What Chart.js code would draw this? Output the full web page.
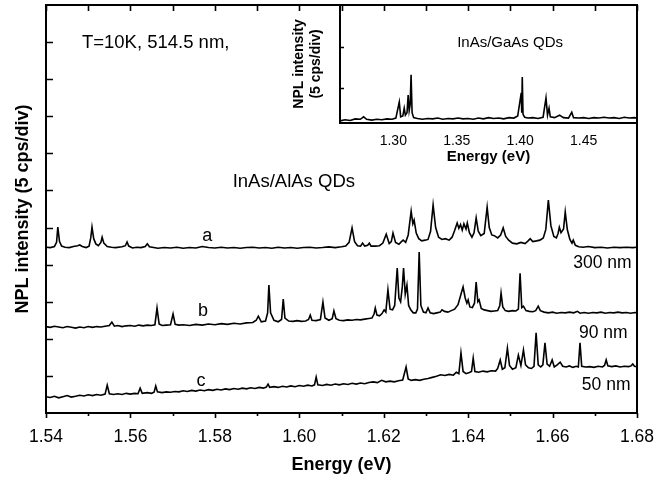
<!DOCTYPE html>
<html lang="en">
<head>
<meta charset="UTF-8">
<title>NPL spectra of InAs/AlAs QDs</title>
<script src="https://cdn.jsdelivr.net/npm/chart.js"></script>
<style>
  body { margin: 0; background: #fff; }
  #wrap { position: relative; width: 670px; height: 480px; }
  #main { position: absolute; left: 0; top: 0; }
  #inset { position: absolute; left: 280px; top: 0; }
</style>
</head>
<body>
<div id="wrap">
  <canvas id="main" width="670" height="480"></canvas>
  <canvas id="inset" width="380" height="175"></canvas>
</div>
<script>
// ---- main panel: InAs/AlAs QDs, offset spectra (units = divisions of 5 cps)
const xTickValues = [1.54, 1.56, 1.58, 1.60, 1.62, 1.64, 1.66, 1.68];
const xMinorValues = [1.55, 1.57, 1.59, 1.61, 1.63, 1.65, 1.67];
const yTickValues = [1, 2, 3, 4, 5, 6, 7, 8, 9, 10];

// trace a (300 nm mesa)
const energyA = [
  1.5400,1.5410,1.5420,1.5425,1.5428,1.5432,1.5437,1.5445,1.5455,1.5465,
  1.5475,1.5480,1.5486,1.5495,1.5502,1.5506,1.5509,1.5513,1.5518,1.5524,
  1.5530,1.5533,1.5537,1.5545,1.5555,1.5565,1.5580,1.5588,1.5592,1.5596,
  1.5605,1.5615,1.5625,1.5635,1.5640,1.5645,1.5655,1.5665,1.5680,1.5695,
  1.5710,1.5725,1.5740,1.5755,1.5770,1.5785,1.5800,1.5815,1.5830,1.5845,
  1.5860,1.5875,1.5890,1.5905,1.5920,1.5935,1.5950,1.5965,1.5980,1.5995,
  1.6010,1.6025,1.6040,1.6055,1.6070,1.6085,1.6100,1.6110,1.6118,1.6125,
  1.6131,1.6138,1.6145,1.6150,1.6155,1.6162,1.6166,1.6170,1.6180,1.6190,
  1.6198,1.6206,1.6213,1.6218,1.6222,1.6228,1.6236,1.6242,1.6246,1.6252,
  1.6258,1.6265,1.6269,1.6272,1.6277,1.6283,1.6290,1.6298,1.6305,1.6311,
  1.6317,1.6323,1.6330,1.6338,1.6346,1.6355,1.6362,1.6368,1.6374,1.6378,
  1.6382,1.6386,1.6390,1.6395,1.6398,1.6403,1.6409,1.6414,1.6419,1.6424,
  1.6430,1.6438,1.6445,1.6450,1.6456,1.6462,1.6470,1.6477,1.6483,1.6489,
  1.6496,1.6505,1.6515,1.6525,1.6535,1.6542,1.6547,1.6553,1.6562,1.6570,
  1.6578,1.6584,1.6590,1.6596,1.6603,1.6609,1.6613,1.6616,1.6620,1.6626,
  1.6630,1.6635,1.6641,1.6646,1.6649,1.6654,1.6662,1.6672,1.6685,1.6700,
  1.6715,1.6730,1.6745,1.6760,1.6775,1.6790,1.6800
];
const intensityA = [
  4.47,4.46,4.49,4.60,5.01,4.62,4.50,4.47,4.46,4.49,
  4.51,4.53,4.49,4.46,4.50,4.72,5.01,4.70,4.56,4.51,
  4.60,4.74,4.58,4.49,4.47,4.46,4.48,4.51,4.61,4.50,
  4.45,4.47,4.46,4.49,4.56,4.48,4.46,4.44,4.46,4.45,
  4.47,4.44,4.46,4.45,4.49,4.46,4.45,4.47,4.45,4.46,
  4.44,4.46,4.47,4.45,4.46,4.44,4.47,4.45,4.46,4.44,
  4.46,4.47,4.45,4.46,4.48,4.46,4.48,4.50,4.60,4.99,
  4.62,4.51,4.50,4.58,4.50,4.52,4.58,4.50,4.50,4.51,
  4.58,4.82,4.57,4.62,4.85,4.60,4.55,4.62,4.66,4.60,
  4.80,5.44,5.10,5.20,4.85,4.70,4.64,4.66,4.68,4.90,
  5.61,5.00,4.74,4.68,4.70,4.66,4.74,4.92,5.12,4.98,
  5.08,4.93,5.10,4.96,5.12,4.86,4.74,4.86,5.26,4.90,
  4.78,4.84,5.55,5.00,4.80,4.78,4.72,4.80,4.99,4.76,
  4.66,4.58,4.56,4.60,4.57,4.64,4.70,4.62,4.64,4.66,
  4.72,4.95,5.74,5.05,4.76,4.72,4.84,5.01,4.86,4.96,
  5.42,4.94,4.68,4.58,4.66,4.52,4.48,4.47,4.49,4.46,
  4.47,4.45,4.47,4.46,4.47,4.46,4.47
];

// trace b (90 nm mesa)
const energyB = [
  1.5400,1.5410,1.5420,1.5430,1.5440,1.5450,1.5460,1.5470,1.5480,1.5490,
  1.5500,1.5510,1.5520,1.5530,1.5540,1.5550,1.5556,1.5562,1.5570,1.5580,
  1.5590,1.5600,1.5610,1.5620,1.5630,1.5640,1.5650,1.5658,1.5663,1.5668,
  1.5675,1.5685,1.5695,1.5701,1.5706,1.5715,1.5725,1.5740,1.5755,1.5770,
  1.5785,1.5800,1.5815,1.5830,1.5845,1.5860,1.5875,1.5890,1.5898,1.5903,
  1.5910,1.5920,1.5925,1.5928,1.5932,1.5940,1.5950,1.5958,1.5962,1.5966,
  1.5975,1.5985,1.5995,1.6005,1.6015,1.6022,1.6026,1.6030,1.6040,1.6050,
  1.6056,1.6061,1.6070,1.6078,1.6082,1.6087,1.6095,1.6105,1.6115,1.6125,
  1.6135,1.6145,1.6155,1.6165,1.6172,1.6177,1.6180,1.6184,1.6190,1.6196,
  1.6201,1.6205,1.6210,1.6215,1.6221,1.6226,1.6232,1.6236,1.6240,1.6244,
  1.6247,1.6251,1.6255,1.6259,1.6264,1.6270,1.6276,1.6280,1.6284,1.6288,
  1.6294,1.6300,1.6305,1.6310,1.6318,1.6326,1.6334,1.6338,1.6344,1.6352,
  1.6360,1.6368,1.6376,1.6383,1.6388,1.6393,1.6397,1.6400,1.6404,1.6410,
  1.6415,1.6419,1.6423,1.6426,1.6431,1.6438,1.6446,1.6454,1.6462,1.6470,
  1.6475,1.6478,1.6482,1.6488,1.6496,1.6505,1.6513,1.6519,1.6523,1.6527,
  1.6531,1.6537,1.6545,1.6553,1.6560,1.6566,1.6571,1.6580,1.6590,1.6600,
  1.6610,1.6620,1.6630,1.6640,1.6650,1.6659,1.6665,1.6675,1.6685,1.6695,
  1.6705,1.6715,1.6725,1.6735,1.6745,1.6755,1.6765,1.6775,1.6785,1.6795,
  1.6800
];
const intensityB = [
  2.33,2.31,2.34,2.32,2.30,2.33,2.31,2.29,2.32,2.30,
  2.33,2.31,2.33,2.32,2.34,2.36,2.45,2.34,2.36,2.33,
  2.35,2.36,2.34,2.37,2.35,2.37,2.36,2.38,2.83,2.40,
  2.36,2.37,2.38,2.67,2.39,2.37,2.38,2.36,2.39,2.37,
  2.40,2.38,2.41,2.39,2.42,2.40,2.43,2.44,2.50,2.61,
  2.46,2.48,2.70,3.45,2.70,2.50,2.46,2.52,3.07,2.56,
  2.48,2.47,2.49,2.47,2.48,2.52,2.64,2.50,2.49,2.52,
  2.99,2.56,2.50,2.54,2.75,2.54,2.50,2.49,2.51,2.50,
  2.52,2.51,2.53,2.55,2.56,2.66,2.83,2.64,2.62,2.68,
  2.78,2.72,3.32,2.80,2.78,2.90,3.91,3.10,3.00,3.40,
  3.91,3.20,3.45,2.90,2.78,2.70,2.70,2.80,4.34,2.90,
  2.72,2.70,2.83,2.70,2.68,2.70,2.72,2.78,2.74,2.72,
  2.76,2.80,2.92,3.20,3.40,3.10,2.96,3.05,2.86,2.84,
  2.96,3.53,3.00,3.05,2.82,2.78,2.76,2.74,2.75,2.76,
  2.90,3.23,2.86,2.76,2.74,2.76,2.75,2.80,3.77,2.84,
  2.88,2.76,2.74,2.73,2.76,2.88,2.76,2.72,2.70,2.72,
  2.69,2.71,2.70,2.72,2.70,2.74,2.69,2.71,2.69,2.71,
  2.70,2.72,2.69,2.71,2.70,2.72,2.70,2.71,2.69,2.71,
  2.70
];

// trace c (50 nm mesa)
const energyC = [
  1.5400,1.5410,1.5420,1.5430,1.5440,1.5450,1.5460,1.5470,1.5480,1.5490,
  1.5500,1.5510,1.5520,1.5530,1.5540,1.5545,1.5550,1.5560,1.5570,1.5580,
  1.5590,1.5600,1.5610,1.5618,1.5623,1.5628,1.5640,1.5650,1.5656,1.5660,
  1.5664,1.5675,1.5685,1.5695,1.5705,1.5715,1.5725,1.5735,1.5745,1.5755,
  1.5765,1.5775,1.5785,1.5795,1.5805,1.5815,1.5825,1.5835,1.5845,1.5855,
  1.5865,1.5875,1.5885,1.5895,1.5905,1.5915,1.5922,1.5926,1.5930,1.5940,
  1.5950,1.5960,1.5970,1.5980,1.5990,1.6000,1.6010,1.6020,1.6030,1.6036,
  1.6040,1.6044,1.6055,1.6065,1.6075,1.6085,1.6095,1.6105,1.6115,1.6125,
  1.6135,1.6145,1.6155,1.6165,1.6175,1.6185,1.6195,1.6205,1.6215,1.6225,
  1.6235,1.6245,1.6253,1.6258,1.6265,1.6275,1.6285,1.6295,1.6305,1.6315,
  1.6325,1.6335,1.6345,1.6355,1.6365,1.6372,1.6378,1.6383,1.6388,1.6395,
  1.6403,1.6408,1.6412,1.6416,1.6425,1.6435,1.6445,1.6455,1.6465,1.6470,
  1.6476,1.6481,1.6487,1.6493,1.6498,1.6505,1.6513,1.6519,1.6525,1.6531,
  1.6536,1.6543,1.6550,1.6556,1.6561,1.6566,1.6572,1.6577,1.6582,1.6587,
  1.6593,1.6599,1.6604,1.6611,1.6618,1.6624,1.6632,1.6640,1.6648,1.6656,
  1.6661,1.6665,1.6669,1.6678,1.6688,1.6698,1.6708,1.6718,1.6723,1.6727,
  1.6731,1.6740,1.6750,1.6760,1.6770,1.6780,1.6786,1.6790,1.6794,1.6800
];
const intensityC = [
  0.44,0.42,0.45,0.41,0.44,0.47,0.43,0.45,0.48,0.46,
  0.49,0.47,0.50,0.48,0.51,0.75,0.52,0.50,0.52,0.50,
  0.53,0.51,0.53,0.52,0.67,0.53,0.55,0.53,0.56,0.73,
  0.57,0.55,0.57,0.56,0.58,0.57,0.60,0.58,0.61,0.59,
  0.62,0.60,0.63,0.61,0.64,0.62,0.65,0.63,0.66,0.64,
  0.67,0.65,0.68,0.66,0.69,0.67,0.70,0.78,0.69,0.71,
  0.69,0.72,0.70,0.73,0.71,0.74,0.72,0.75,0.73,0.76,
  0.97,0.76,0.74,0.77,0.75,0.78,0.76,0.79,0.77,0.80,
  0.78,0.81,0.79,0.82,0.84,0.82,0.88,0.84,0.86,0.84,
  0.87,0.89,1.24,0.92,0.88,0.90,0.88,0.91,0.93,0.96,
  0.99,1.03,1.01,1.04,1.02,1.10,1.06,1.62,1.12,1.06,
  1.09,1.12,1.48,1.12,1.10,1.13,1.11,1.14,1.13,1.20,
  1.43,1.18,1.22,1.75,1.28,1.18,1.22,1.56,1.28,1.70,
  1.30,1.22,1.20,1.26,2.16,1.30,1.24,1.30,1.89,1.32,
  1.26,1.43,1.24,1.30,1.37,1.26,1.24,1.27,1.23,1.26,
  1.24,1.89,1.26,1.24,1.25,1.23,1.26,1.24,1.28,1.43,
  1.27,1.25,1.27,1.24,1.26,1.25,1.27,1.32,1.26,1.25
];

// ---- inset: InAs/GaAs QDs
const insetTickValues = [1.30, 1.35, 1.40, 1.45];
const insetYTickValues = [1, 2];
const insetEnergy = [
  1.258,1.262,1.266,1.270,1.274,1.2766,1.279,1.283,1.287,1.291,
  1.295,1.299,1.302,1.3047,1.3058,1.3075,1.3086,1.3095,1.3108,1.3117,
  1.3125,1.3133,1.3140,1.3148,1.3160,1.319,1.323,1.327,1.331,1.335,
  1.339,1.343,1.347,1.351,1.355,1.359,1.363,1.367,1.371,1.375,
  1.379,1.383,1.387,1.391,1.395,1.398,1.4008,1.4012,1.4016,1.4022,
  1.4035,1.406,1.410,1.414,1.418,1.4203,1.4215,1.4227,1.4237,1.427,
  1.431,1.434,1.438,1.4406,1.442,1.446,1.450,1.454,1.458,1.462,
  1.466,1.470,1.474,1.478,1.482,1.486,1.490,1.492
];
const insetIntensity = [
  0.20,0.23,0.21,0.25,0.24,0.30,0.24,0.22,0.24,0.23,
  0.25,0.24,0.27,0.66,0.30,0.32,0.51,0.34,0.40,0.83,
  0.45,0.60,1.32,0.40,0.28,0.26,0.24,0.26,0.25,0.27,
  0.24,0.26,0.25,0.27,0.25,0.26,0.24,0.27,0.25,0.28,
  0.26,0.27,0.25,0.28,0.27,0.32,0.88,0.40,1.27,0.36,
  0.29,0.27,0.28,0.26,0.29,0.76,0.34,0.51,0.30,0.28,
  0.34,0.28,0.27,0.41,0.28,0.27,0.28,0.26,0.28,0.27,
  0.29,0.27,0.28,0.26,0.29,0.27,0.28,0.27
];

const FONT = "'Liberation Sans', Arial, Helvetica, sans-serif";
Chart.defaults.color = '#000';
Chart.defaults.font.family = FONT;

function pairs(xs, ys) {
  return xs.map((x, i) => ({ x: x, y: ys[i] }));
}

function trace(xs, ys) {
  return {
    data: pairs(xs, ys),
    borderColor: '#000',
    borderWidth: 1.6,
    pointRadius: 0,
    tension: 0,
    fill: false
  };
}

// frame, inward/outward tick marks and text notes, all placed through the scales
const frameTicks = {
  id: 'frameTicks',
  afterDraw(chart, args, opts) {
    const { ctx, chartArea: a, scales } = chart;
    ctx.save();
    ctx.strokeStyle = '#000';
    ctx.lineWidth = opts.lineWidth;
    ctx.strokeRect(a.left, a.top, a.right - a.left, a.bottom - a.top);
    ctx.lineWidth = opts.tickWidth;
    ctx.beginPath();
    for (const t of opts.ticks) {
      const s = scales[t.scale];
      for (const v of t.values) {
        const p = Math.round(s.getPixelForValue(v)) + 0.5;
        if (t.edge === 'bottom') { ctx.moveTo(p, a.bottom); ctx.lineTo(p, a.bottom + t.len); }
        if (t.edge === 'top') { ctx.moveTo(p, a.top); ctx.lineTo(p, a.top + t.len); }
        if (t.edge === 'left') { ctx.moveTo(a.left, p); ctx.lineTo(a.left + t.len, p); }
      }
    }
    ctx.stroke();
    ctx.fillStyle = '#000';
    ctx.textBaseline = 'middle';
    for (const n of opts.notes) {
      ctx.font = n.font;
      ctx.textAlign = n.align || 'center';
      ctx.fillText(n.text, scales.x.getPixelForValue(n.x), scales.y.getPixelForValue(n.y));
    }
    ctx.restore();
  }
};

new Chart(document.getElementById('main'), {
  type: 'line',
  data: {
    datasets: [
      trace(energyA, intensityA),
      trace(energyB, intensityB),
      trace(energyC, intensityC)
    ]
  },
  plugins: [frameTicks],
  options: {
    responsive: false,
    animation: false,
    events: [],
    layout: { padding: { left: 0, top: 5, right: 33, bottom: 0 } },
    scales: {
      x: {
        type: 'linear',
        min: 1.54,
        max: 1.68,
        grid: { display: false },
        border: { display: false },
        afterBuildTicks: s => { s.ticks = xTickValues.map(v => ({ value: v })); },
        afterFit: s => { s.height = 67; },
        ticks: {
          font: { size: 17.5 },
          padding: 6,
          autoSkip: false,
          maxRotation: 0,
          callback: v => v.toFixed(2)
        },
        title: {
          display: true,
          text: 'Energy (eV)',
          font: { size: 18, weight: 'bold' },
          padding: { top: 0, bottom: 4 }
        }
      },
      y: {
        min: 0,
        max: 11,
        grid: { display: false },
        border: { display: false },
        afterBuildTicks: s => { s.ticks = yTickValues.map(v => ({ value: v })); },
        afterFit: s => { s.width = 46; },
        ticks: { display: false },
        title: {
          display: true,
          text: 'NPL intensity (5 cps/div)',
          font: { size: 18, weight: 'bold' },
          padding: { top: 12, bottom: 0 }
        }
      }
    },
    plugins: {
      legend: { display: false },
      tooltip: { enabled: false },
      frameTicks: {
        lineWidth: 2,
        tickWidth: 1.6,
        ticks: [
          { scale: 'x', edge: 'bottom', values: xTickValues, len: 5 },
          { scale: 'x', edge: 'bottom', values: xMinorValues, len: 3 },
          { scale: 'x', edge: 'top', values: xTickValues.concat(xMinorValues), len: 6 },
          { scale: 'y', edge: 'left', values: yTickValues, len: 7 }
        ],
        notes: [
          { text: 'T=10K, 514.5 nm,', x: 1.5485, y: 9.97, align: 'left', font: '18.5px ' + FONT },
          { text: 'InAs/AlAs QDs', x: 1.6132, y: 6.23, align: 'right', font: '18.5px ' + FONT },
          { text: 'a', x: 1.5782, y: 4.77, font: '18px ' + FONT },
          { text: 'b', x: 1.5772, y: 2.75, font: '18px ' + FONT },
          { text: 'c', x: 1.5767, y: 0.86, font: '18px ' + FONT },
          { text: '300 nm', x: 1.6718, y: 4.04, font: '17.5px ' + FONT },
          { text: '90 nm', x: 1.6720, y: 2.16, font: '17.5px ' + FONT },
          { text: '50 nm', x: 1.6727, y: 0.75, font: '17.5px ' + FONT }
        ]
      }
    }
  }
});

new Chart(document.getElementById('inset'), {
  type: 'line',
  data: { datasets: [trace(insetEnergy, insetIntensity)] },
  plugins: [frameTicks],
  options: {
    responsive: false,
    animation: false,
    events: [],
    layout: { padding: { left: 0, top: 5, right: 23, bottom: 0 } },
    scales: {
      x: {
        type: 'linear',
        min: 1.258,
        max: 1.492,
        grid: { display: false },
        border: { display: false },
        afterBuildTicks: s => { s.ticks = insetTickValues.map(v => ({ value: v })); },
        afterFit: s => { s.height = 52; },
        ticks: {
          font: { size: 14 },
          padding: 2,
          autoSkip: false,
          maxRotation: 0,
          callback: v => v.toFixed(2)
        },
        title: {
          display: true,
          text: 'Energy (eV)',
          font: { size: 15, weight: 'bold' },
          padding: { top: 0, bottom: 9 }
        }
      },
      y: {
        min: 0.15,
        max: 3.02,
        grid: { display: false },
        border: { display: false },
        afterBuildTicks: s => { s.ticks = insetYTickValues.map(v => ({ value: v })); },
        afterFit: s => { s.width = 60; },
        ticks: { display: false },
        title: {
          display: true,
          text: ['NPL intensity', '(5 cps/div)'],
          font: { size: 14, weight: 'bold' },
          padding: { top: 10.6, bottom: 0 }
        }
      }
    },
    plugins: {
      legend: { display: false },
      tooltip: { enabled: false },
      frameTicks: {
        lineWidth: 2,
        tickWidth: 1.4,
        ticks: [
          { scale: 'y', edge: 'left', values: insetYTickValues, len: 4 }
        ],
        notes: [
          { text: 'InAs/GaAs QDs', x: 1.392, y: 2.10, font: '15px ' + FONT }
        ]
      }
    }
  }
});
</script>
</body>
</html>
